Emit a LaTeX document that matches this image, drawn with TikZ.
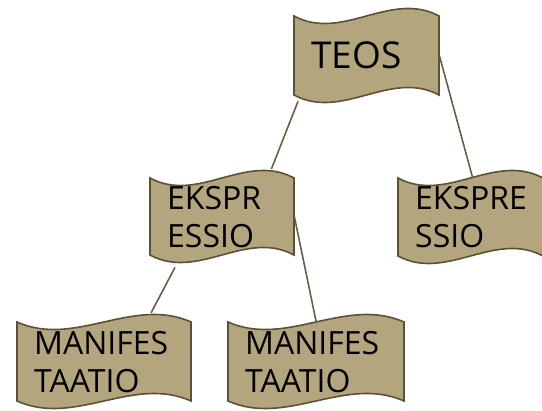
\documentclass[tikz,border=0pt]{standalone}
\usepackage{fontspec}
\setmainfont{Open Sans}
\usetikzlibrary{backgrounds}

\definecolor{tanfill}{RGB}{179,166,126}
\definecolor{tanline}{RGB}{94,80,56}
\definecolor{linkcol}{RGB}{108,94,70}

\tikzset{
  wavefill/.style={fill=tanfill, draw=tanline, line width=1.6pt},
  link/.style={draw=linkcol, line width=1.6pt},
  boxtext/.style={inner xsep=17pt, align=left, font=\fontsize{32}{38}\selectfont}
}

% wavy box: [style], name, left, top, width, height, text
\newcommand{\wavebox}[7][]{%
  \node[boxtext, minimum width=#5pt, minimum height=#6pt, text width={#5pt-34pt},
        anchor=north west, #1] (#2) at (#3,#4) {#7};
  \begin{scope}[on background layer]
    \draw[wavefill] (#3,#4) .. controls ({#3+#5/3},{#4+26}) and ({#3+2*#5/3},{#4-26}) .. ({#3+#5},#4)
      -- ({#3+#5},{#4+#6}) .. controls ({#3+2*#5/3},{#4+#6-26}) and ({#3+#5/3},{#4+#6+26}) .. (#3,{#4+#6})
      -- cycle;
  \end{scope}}

\begin{document}
\begin{tikzpicture}[x=1pt, y=-1pt]
  \useasboundingbox (0,0) rectangle (542,411);

  % Boxes
  \wavebox[font=\fontsize{37}{44}\selectfont]{teos}{294}{16}{145}{79}{TEOS}
  \wavebox{eksA}{150}{178}{144}{77}{EKSPR\\ESSIO}
  \wavebox{eksB}{398}{178}{145}{78}{EKSPRE\\SSIO}
  \wavebox{manA}{17}{322}{174}{79}{MANIFES\\TAATIO}
  \wavebox{manB}{228}{322}{176}{79}{MANIFES\\TAATIO}

  % Links
  \draw[link] ([shift={(4,6)}]teos.south west) -- ([shift={(-23,-9)}]eksA.north east);
  \draw[link] (teos.east) -- ([shift={(2,0)}]eksB.north);
  \draw[link] ([shift={(25,12)}]eksA.south west) -- ([shift={(134,-9)}]manA.north west);
  \draw[link] (eksA.east) -- (manB.north);
\end{tikzpicture}
\end{document}
